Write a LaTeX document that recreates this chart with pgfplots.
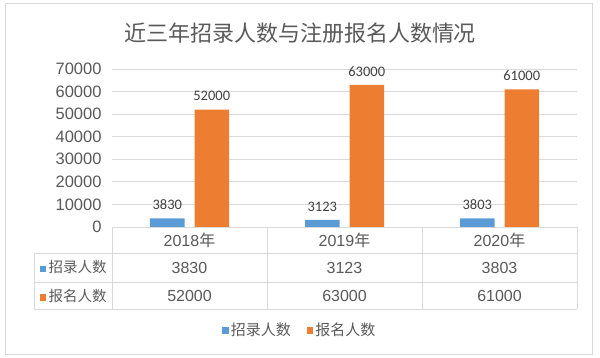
\documentclass[border=0pt]{standalone}
\usepackage{pgfplots}
\pgfplotsset{compat=1.18}
\usepackage{fontspec}
\setmainfont{Liberation Sans}
\newfontfamily\cjk{Noto Sans CJK SC}
\newfontfamily\carl{Carlito}
\definecolor{cblue}{HTML}{5B9BD5}
\definecolor{corange}{HTML}{ED7D31}
\definecolor{txt}{HTML}{595959}
\definecolor{lab}{HTML}{404040}
\definecolor{gridc}{HTML}{D9D9D9}
\begin{document}
\begin{tikzpicture}[x=1pt,y=1pt]
\path (0,0) rectangle (600,358);
\draw[gridc,line width=0.8pt] (5,4) rectangle (592,355);
\node[txt,font=\cjk\fontsize{22}{22}\selectfont] at (300,325) {近三年招录人数与注册报名人数情况};
\begin{axis}[
  at={(112pt,131pt)}, anchor=south west,
  scale only axis, width=465pt, height=158pt,
  xmin=0, xmax=3, ymin=0, ymax=70000,
  ytick={0,10000,...,70000}, xtick=\empty,
  ymajorgrids, grid style={gridc, line width=0.8pt},
  axis line style={draw=none}, major tick length=0pt,
  ybar=10pt, bar width=34.5pt,
  /pgf/number format/assume math mode=true,
  /pgf/number format/set thousands separator={},
  scaled y ticks=false,
  yticklabel style={font=\fontsize{16.5}{16.5}\selectfont, text=txt, xshift=-7pt},
  nodes near coords,
  nodes near coords style={font=\carl\fontsize{14.5}{14.5}\selectfont, text=lab, yshift=5pt},
  legend style={at={(0.404,-0.652)}, anchor=center, legend columns=2, draw=none, fill=none,
    font=\cjk\fontsize{15}{15}\selectfont, text=txt,
    /tikz/every even column/.append style={column sep=14pt}},
]
\addplot[fill=cblue, draw=none, legend image code/.code={\fill[cblue] (0pt,-3.5pt) rectangle (6.5pt,3pt);}]
  coordinates {(0.5,3830) (1.5,3123) (2.5,3803)};
\addplot[fill=corange, draw=none, legend image code/.code={\fill[corange] (0pt,-3.5pt) rectangle (6.5pt,3pt);}]
  coordinates {(0.5,52000) (1.5,63000) (2.5,61000)};
\legend{招录人数, 报名人数}
\end{axis}
\begin{scope}[gridc, line width=0.8pt]
\draw (112,131) -- (577,131);
\draw (34,105) -- (577,105);
\draw (34,76) -- (577,76);
\draw (34,49) -- (577,49);
\draw (34,105) -- (34,49);
\foreach \x in {112,267,422,577} \draw (\x,131) -- (\x,49);
\end{scope}
\begin{scope}[every node/.style={text=txt, font=\fontsize{16}{16}\selectfont}]
\node at (189.5,118) {2018{\cjk 年}};
\node at (344.5,118) {2019{\cjk 年}};
\node at (499.5,118) {2020{\cjk 年}};
\node at (189.5,90.5) {3830};
\node at (344.5,90.5) {3123};
\node at (499.5,90.5) {3803};
\node at (189.5,62.5) {52000};
\node at (344.5,62.5) {63000};
\node at (499.5,62.5) {61000};
\node[anchor=west, font=\cjk\fontsize{14.5}{14.5}\selectfont] at (36,90.5) {\raisebox{0.5pt}{\textcolor{cblue}{\rule{6pt}{6.5pt}}}\hspace{3pt}招录人数};
\node[anchor=west, font=\cjk\fontsize{14.5}{14.5}\selectfont] at (36,62.5) {\raisebox{0.5pt}{\textcolor{corange}{\rule{6pt}{6.5pt}}}\hspace{3pt}报名人数};
\end{scope}
\end{tikzpicture}
\end{document}
